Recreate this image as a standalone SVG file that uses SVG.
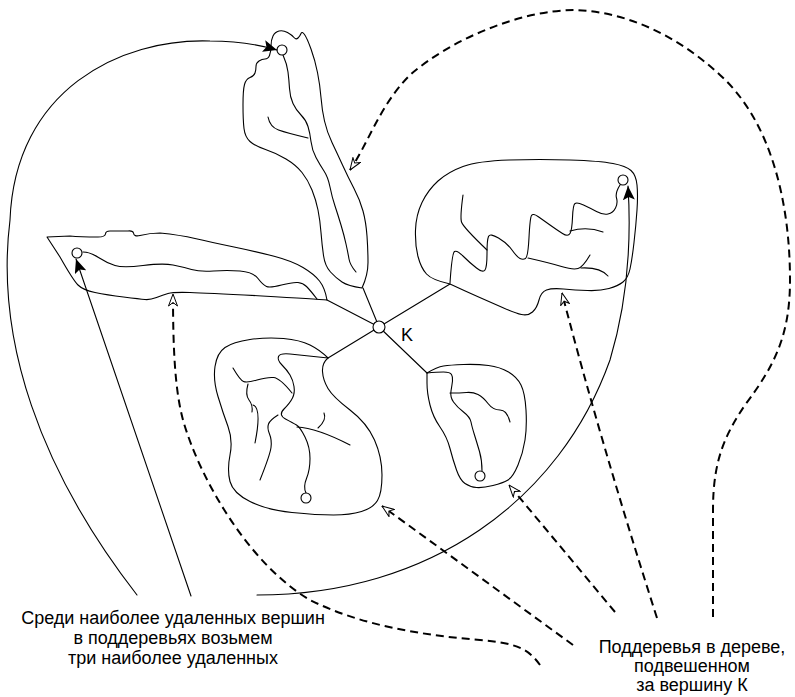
<svg xmlns="http://www.w3.org/2000/svg" width="795" height="697" viewBox="0 0 795 697">
<style>
.s{fill:none;stroke:#000;stroke-width:1.1;stroke-linejoin:round;stroke-linecap:round}
.v{fill:#fff;stroke:#000;stroke-width:1.1}
.d{fill:none;stroke:#000;stroke-width:2;stroke-dasharray:8 5}
.t{font-family:"Liberation Sans",Arial,sans-serif;font-size:18px;fill:#000;text-anchor:middle}
</style>
<defs>
<marker id="fa" viewBox="0 0 14 12" refX="14" refY="6" markerWidth="14" markerHeight="12" markerUnits="userSpaceOnUse" orient="auto">
<path d="M14,6 L0,0 L3,6 L0,12 Z" fill="#000" stroke="none"/>
</marker>
<marker id="oa" viewBox="0 0 13 10" refX="12.5" refY="5" markerWidth="13" markerHeight="10" markerUnits="userSpaceOnUse" orient="auto">
<path d="M12.5,5 L0.5,0.5 L4,5 L0.5,9.5 Z" fill="#fff" stroke="#000" stroke-width="1" stroke-dasharray="none"/>
</marker>
</defs>
<rect width="795" height="697" fill="#fff"/>

<g id="subtree-top">
<path class="s" d="M362,288 Q348,286 342,282 Q336,278 330.5,272 Q325,266 323.5,255.5 Q322,245 321,232.5 Q320,220 318,210 Q316,200 312,190 Q308,180 302,172.5 Q296,165 286,159 Q276,153 265.5,149.5 Q255,146 250,141.5 Q245,137 244,128.5 Q243,120 243,105 Q243,90 244.5,84.5 Q246,79 250,77.5 Q254,76 255,73 Q256,70 256,66.5 Q256,63 259,61 Q262,59 265,59 Q268,59 269.5,55.5 Q271,52 271,46 Q271,40 273,36 Q275,32 279,31 Q283,30 287.5,32.5 Q292,35 294,37.5 Q296,40 298,38 Q300,36 301,33.5 Q302,31 304.5,34.5 Q307,38 311,49 Q315,60 317.5,72.5 Q320,85 321,97.5 Q322,110 324.5,121 Q327,132 332,142.5 Q337,153 342.5,165 Q348,177 354,188.5 Q360,200 363,211 Q366,222 367,236 Q368,250 368,262.5 Q368,275 362,288 Z"/>
<path class="s" d="M283,55 Q287,64 288,72 Q289,80 289.5,88.5 Q290,97 293,103.5 Q296,110 301,115 Q306,120 308,126.5 Q310,133 311,141.5 Q312,150 316,157.5 Q320,165 324,171 Q328,177 330,187 Q332,197 335,206 Q338,215 341,225 Q344,235 346,244 Q348,253 349,259 Q350,265 356,272"/>
<path class="s" d="M268,117 Q270,127 278.5,130 Q287,133 308,138"/>
<circle class="v" cx="282" cy="50" r="5"/>
</g>

<g id="subtree-left">
<path class="s" d="M327,300 Q325,288 319.5,281 Q314,274 303,267.5 Q292,261 275,256.5 Q258,252 234,247 Q210,242 195,238.5 Q180,235 160,233 Q150,233 140,235.5 Q134,237 133.5,233 Q133,230.5 128,231 L110,231 Q105.5,231 105.5,234 Q105,237 98,237 Q80,237 70,236 L47,237 L60,257 Q73,280 78,285 Q83,290 95,292.5 Q107,295 123.5,297 Q140,299 145,299.5 Q150,300 156.5,297.5 Q163,295 168,293.5 Q173,292 190,292.5 Q207,293 262,296 Q317,299 327,300 Z"/>
<path class="s" d="M83,252 Q90,252 98.5,257.5 Q107,263 115,265.5 Q123,268 143,265.5 Q163,263 173,265 Q183,267 191.5,269.5 Q200,272 213.5,271 Q227,270 240,271 Q253,272 258,278.5 Q263,285 266.5,286.5 Q270,288 281.5,285 Q293,282 298,282.5 Q303,283 306.5,286.5 Q310,290 317,299"/>
<circle class="v" cx="77" cy="253" r="5"/>
</g>

<g id="subtree-right">
<path class="s" d="M450,284 Q432,280 426.5,274 Q421,268 418,256.5 Q415,245 415.5,230 Q416,215 422,202.5 Q428,190 438,181 Q448,172 463,166.5 Q478,161 509,160 Q540,159 570,160 Q600,161 613,163.5 Q626,166 631,170.5 Q636,175 637,185 Q638,195 637,210 Q636,225 634,242.5 Q632,260 630,269 Q628,278 623,282 Q618,286 609,288.5 Q600,291 587.5,290.5 Q575,290 563.5,289 Q552,288 546.5,290 Q541,292 539,300 Q537,308 532.5,312 Q528,316 521.5,314.5 Q515,313 502.5,307.5 Q490,302 477.5,296.5 Q465,291 450,284 Z"/>
<path class="s" d="M620,185 Q615,193 616.5,198 Q618,203 615.5,208 Q613,213 608,214 Q603,215 596.5,211.5 Q590,208 583.5,205 Q577,202 575,203.5 Q573,205 572.5,217.5 Q572,230 570,233.5 Q568,237 562.5,233.5 Q557,230 550,225 Q543,220 538,216.5 Q533,213 531.5,215.5 Q530,218 529,237.5 Q528,257 525.5,258.5 Q523,260 520,258.5 Q517,257 512,250 Q507,243 498.5,238 Q490,233 488.5,236.5 Q487,240 487,253.5 Q487,267 485,270 Q483,273 476.5,268 Q470,263 463.5,256.5 Q457,250 454.5,251.5 Q452,253 450,283"/>
<path class="s" d="M463,195 Q460,217 461.5,222 Q463,227 487,250"/>
<path class="s" d="M570,231 Q587,226 603,232"/>
<path class="s" d="M528,258 Q550,263 561.5,266.5 Q573,270 578,268.5 Q583,267 590,255"/>
<path class="s" d="M581,268 Q600,267 608,276"/>
<circle class="v" cx="623" cy="180" r="5"/>
</g>

<g id="subtree-lower-left">
<path class="s" d="M328,358 Q320,350 310,345 Q300,340 283.5,338.5 Q267,337 250,339.5 Q233,342 225,347.5 Q217,353 215,366.5 Q213,380 218,396.5 Q223,413 228,426.5 Q233,440 230,455 Q227,470 230,481.5 Q233,493 250,501.5 Q267,510 292,512.5 Q317,515 333.5,515 Q350,515 361.5,511.5 Q373,508 377.5,500.5 Q382,493 382,475 Q382,457 374.5,440 Q367,423 350,410 Q333,397 328,388.5 Q323,380 322.5,371.5 Q322,363 328,358 Z"/>
<path class="s" d="M306,493 Q303,487 306.5,478.5 Q310,470 310,458.5 Q310,447 305,437 Q300,427 296.5,425 Q293,423 285.5,419 Q278,415 284,409 Q290,403 292.5,398 Q295,393 294,386.5 Q293,380 290,375 Q287,370 282,365 Q277,360 278.5,356.5 Q280,353 290,354 Q300,355 328,358"/>
<path class="s" d="M278,415 Q270,420 268.5,424 Q267,428 269.5,434 Q272,440 271,447.5 Q270,455 260,480"/>
<path class="s" d="M297,427 Q317,428 350,445"/>
<path class="s" d="M318,428 Q327,420 324,413"/>
<path class="s" d="M233,368 Q240,380 243.5,381.5 Q247,383 257,380 Q267,377 273.5,377.5 Q280,378 292,393"/>
<path class="s" d="M248,384 Q245,395 249,400 Q253,405 252,412"/>
<path class="s" d="M253,405 Q262,408 255,443"/>
<circle class="v" cx="306" cy="498" r="5"/>
</g>

<g id="subtree-lower-right">
<path class="s" d="M427,373 Q437,367 443.5,366 Q450,365 463.5,364.5 Q477,364 488.5,365.5 Q500,367 508.5,372 Q517,377 521,385 Q525,393 526,410 Q527,427 525,440 Q523,453 518,465 Q513,477 508,480 Q503,483 493,485.5 Q483,488 476.5,487.5 Q470,487 465,483.5 Q460,480 456.5,470 Q453,460 450,448.5 Q447,437 440,427 Q433,417 430,405 Q427,393 427,383 Q427,378 427,373 Z"/>
<path class="s" d="M482,471 Q482,460 479.5,451.5 Q477,443 474.5,435 Q472,427 471,422 Q470,417 463.5,412 Q457,407 453.5,402 Q450,397 451,391 Q452,385 452.5,381 Q453,377 451.5,374.5 Q450,372 443.5,372 Q437,372 427,373"/>
<path class="s" d="M450,393 Q460,393 466.5,392.5 Q473,392 478,394.5 Q483,397 488,403.5 Q493,410 500,410 Q507,410 510,422"/>
<circle class="v" cx="480" cy="476" r="5"/>
</g>

<g id="node-K">
<path class="s" d="M379,327 L327,300 M379,327 L363,288 M379,327 L450,284 M379,327 L328,358 M379,327 L427,373"/>
<circle class="v" cx="379" cy="327" r="6"/>
<text class="t" x="401" y="340.5" style="text-anchor:start;font-size:18px">K</text>
</g>

<g id="connectors">
<path class="s" marker-end="url(#fa)" d="M137,595 C40,470 -5,340 10,220 C15,90 120,38 210,41 C240,41 260,45 277,50"/>
<path class="s" marker-end="url(#fa)" d="M191,596 L76,259"/>
<path class="s" marker-end="url(#fa)" d="M257,595 C430,595 560,500 610,360 C625,310 632,250 628,186"/>
<path class="d" marker-end="url(#oa)" d="M540,665 C528,648 515,643 480,640 C420,635 360,625 310,600 C250,565 200,480 183,420 C175,390 173,350 173,294"/>
<path class="d" marker-end="url(#oa)" d="M573,645 L382,506"/>
<path class="d" marker-end="url(#oa)" d="M615,612 L509,485"/>
<path class="d" marker-end="url(#oa)" d="M657,618 Q600,440 562,293"/>
<path class="d" marker-end="url(#oa)" d="M713,617 L713,510 C713,460 725,435 745,405 C775,365 790,335 790,280 C790,200 770,120 720,75 C680,38 630,12 575,10 C520,10 450,40 410,75 C380,105 370,140 350,170"/>
</g>

<g id="label-left">
<text class="t" x="173" y="624">Среди наиболее удаленных вершин</text>
<text class="t" x="173" y="644">в поддеревьях возьмем</text>
<text class="t" x="173" y="664">три наиболее удаленных</text>
</g>
<g id="label-right">
<text class="t" x="692" y="653">Поддеревья в дереве,</text>
<text class="t" x="692" y="672">подвешенном</text>
<text class="t" x="692" y="691">за вершину К</text>
</g>
</svg>
